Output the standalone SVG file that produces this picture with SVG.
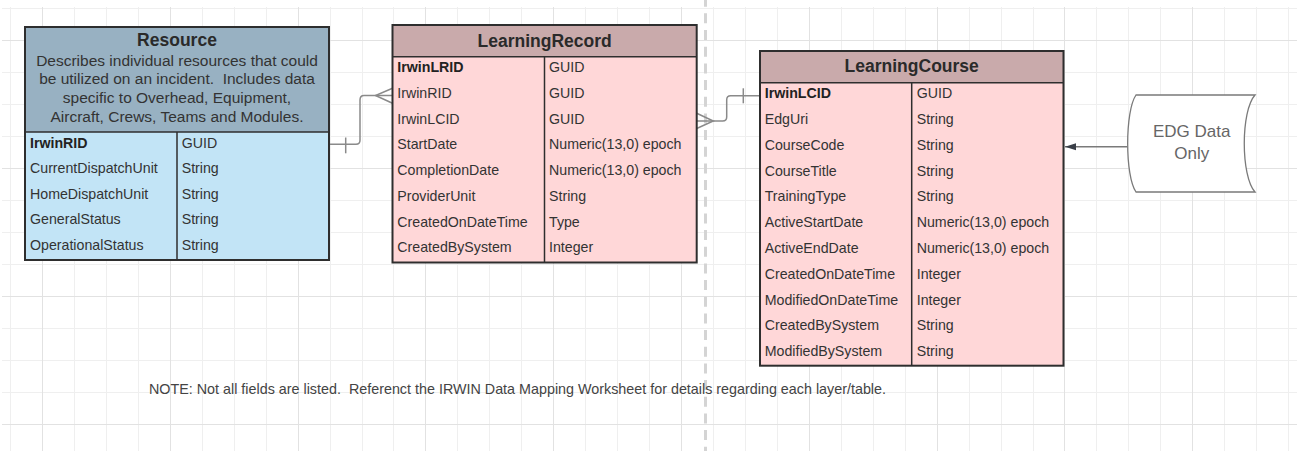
<svg xmlns="http://www.w3.org/2000/svg" width="1297" height="451" viewBox="0 0 1297 451">
<style>
text{font-family:"Liberation Sans",Arial,sans-serif;fill:#333}
.gl{stroke:#efefef;stroke-width:1;fill:none}
.gh{stroke:#e2e2e2;stroke-width:1;fill:none}
.frame{fill:none;stroke:#2e2e2e;stroke-width:2}
.div{stroke:#2e2e2e;stroke-width:1.5}
.hres{fill:#98b1c2}
.bres{fill:#c2e4f6}
.hpink{fill:#c9aaab}
.bpink{fill:#ffd7d8}
.title{font-size:17.5px;font-weight:bold;text-anchor:middle;fill:#2a2a2a}
.desc{font-size:15.5px;text-anchor:middle}
.row{font-size:14.2px}
.key{font-weight:bold;fill:#222}
.conn{fill:none;stroke:#8a8a8a;stroke-width:1.5}
</style>
<defs>
<marker id="arrow" markerWidth="12" markerHeight="8" refX="11" refY="4" orient="auto" markerUnits="userSpaceOnUse">
<path d="M0,0.5 L11,4 L0,7.5 Z" fill="#3a3f48"/>
</marker>
</defs>
<rect width="1297" height="451" fill="#ffffff"/>
<g id="grid">
<path class="gl" d="M10.5,7V451M42.5,7V451M74.5,7V451M106.5,7V451M138.5,7V451M170.5,7V451M202.5,7V451M234.5,7V451M266.5,7V451M298.5,7V451M330.5,7V451M362.5,7V451M393.5,7V451M425.5,7V451M457.5,7V451M489.5,7V451M521.5,7V451M553.5,7V451M585.5,7V451M617.5,7V451M649.5,7V451M681.5,7V451M713.5,7V451M745.5,7V451M777.5,7V451M809.5,7V451M841.5,7V451M873.5,7V451M905.5,7V451M937.5,7V451M969.5,7V451M1001.5,7V451M1033.5,7V451M1064.5,7V451M1096.5,7V451M1128.5,7V451M1160.5,7V451M1192.5,7V451M1224.5,7V451M1256.5,7V451M1288.5,7V451"/>
<path class="gl" d="M2,8.5H1297M2,40.5H1297M2,72.5H1297M2,104.5H1297M2,136.5H1297M2,168.5H1297M2,200.5H1297M2,232.5H1297M2,264.5H1297M2,296.5H1297M2,328.5H1297M2,360.5H1297M2,392.5H1297M2,424.5H1297"/>
<path class="gh" d="M42.5,7V451M170.5,7V451M298.5,7V451M425.5,7V451M553.5,7V451M681.5,7V451M809.5,7V451M937.5,7V451M1064.5,7V451M1192.5,7V451M2,40.5H1297M2,168.5H1297M2,296.5H1297M2,424.5H1297"/>
</g>
<line x1="705.5" y1="0" x2="705.5" y2="451" stroke="#d4d4d4" stroke-width="3" stroke-dasharray="10 6.67" stroke-dashoffset="3.3"/>
<g id="connectors">
<path class="conn" d="M329,144.3 H356 Q360,144.3 360,140.3 V100 Q360,95.5 364,95.5 H392.5"/>
<path class="conn" d="M345.7,137.5 V153.3"/>
<path class="conn" d="M392.5,88.3 L375.5,95.5 L392.5,103.3"/>
<path class="conn" d="M696.7,121 H722.7 Q726.7,121 726.7,117 V99.7 Q726.7,95.7 730.7,95.7 H760"/>
<path class="conn" d="M696.7,113.3 L713.3,121 L696.7,128.5"/>
<path class="conn" d="M743.3,88.3 V103.3"/>
<path d="M1127.7,146.7 H1065" fill="none" stroke="#7a7a7a" stroke-width="1.4" marker-end="url(#arrow)"/>
</g>
<g id="resource">
<rect class="hres" x="25" y="27" width="304" height="105"/>
<rect class="bres" x="25" y="132" width="304" height="128"/>
<line class="div" x1="25" y1="132" x2="329" y2="132"/>
<line class="div" x1="177" y1="132" x2="177" y2="260"/>
<rect class="frame" x="25" y="27" width="304" height="233"/>
<text class="title" x="177" y="46">Resource</text>
<text class="desc" x="177" y="65.7">Describes individual resources that could</text>
<text class="desc" x="177" y="84.3" xml:space="preserve">be utilized on an incident.  Includes data</text>
<text class="desc" x="177" y="103">specific to Overhead, Equipment,</text>
<text class="desc" x="177" y="121.7">Aircraft, Crews, Teams and Modules.</text>
<text class="row key" x="30" y="147.5">IrwinRID</text><text class="row" x="181.7" y="147.5">GUID</text>
<text class="row" x="30" y="173">CurrentDispatchUnit</text><text class="row" x="181.7" y="173">String</text>
<text class="row" x="30" y="198.5">HomeDispatchUnit</text><text class="row" x="181.7" y="198.5">String</text>
<text class="row" x="30" y="224">GeneralStatus</text><text class="row" x="181.7" y="224">String</text>
<text class="row" x="30" y="249.5">OperationalStatus</text><text class="row" x="181.7" y="249.5">String</text>
</g>
<g id="learningrecord">
<rect class="hpink" x="392.5" y="25" width="304.2" height="31.7"/>
<rect class="bpink" x="392.5" y="56.7" width="304.2" height="205.8"/>
<line class="div" x1="392.5" y1="56.7" x2="696.7" y2="56.7"/>
<line class="div" x1="544.5" y1="56.7" x2="544.5" y2="262.5"/>
<rect class="frame" x="392.5" y="25" width="304.2" height="237.5"/>
<text class="title" x="544.6" y="46.5">LearningRecord</text>
<text class="row key" x="397.3" y="72.3">IrwinLRID</text><text class="row" x="549" y="72.3">GUID</text>
<text class="row" x="397.3" y="98">IrwinRID</text><text class="row" x="549" y="98">GUID</text>
<text class="row" x="397.3" y="123.7">IrwinLCID</text><text class="row" x="549" y="123.7">GUID</text>
<text class="row" x="397.3" y="149.4">StartDate</text><text class="row" x="549" y="149.4">Numeric(13,0) epoch</text>
<text class="row" x="397.3" y="175.1">CompletionDate</text><text class="row" x="549" y="175.1">Numeric(13,0) epoch</text>
<text class="row" x="397.3" y="200.8">ProviderUnit</text><text class="row" x="549" y="200.8">String</text>
<text class="row" x="397.3" y="226.5">CreatedOnDateTime</text><text class="row" x="549" y="226.5">Type</text>
<text class="row" x="397.3" y="252.2">CreatedBySystem</text><text class="row" x="549" y="252.2">Integer</text>
</g>
<g id="learningcourse">
<rect class="hpink" x="760" y="51" width="303.5" height="31.7"/>
<rect class="bpink" x="760" y="82.7" width="303.5" height="283"/>
<line class="div" x1="760" y1="82.7" x2="1063.5" y2="82.7"/>
<line class="div" x1="911.7" y1="82.7" x2="911.7" y2="365.7"/>
<rect class="frame" x="760" y="51" width="303.5" height="314.7"/>
<text class="title" x="911.7" y="71.5">LearningCourse</text>
<text class="row key" x="764.7" y="98.3">IrwinLCID</text><text class="row" x="916.7" y="98.3">GUID</text>
<text class="row" x="764.7" y="124.1">EdgUri</text><text class="row" x="916.7" y="124.1">String</text>
<text class="row" x="764.7" y="149.8">CourseCode</text><text class="row" x="916.7" y="149.8">String</text>
<text class="row" x="764.7" y="175.6">CourseTitle</text><text class="row" x="916.7" y="175.6">String</text>
<text class="row" x="764.7" y="201.4">TrainingType</text><text class="row" x="916.7" y="201.4">String</text>
<text class="row" x="764.7" y="227.2">ActiveStartDate</text><text class="row" x="916.7" y="227.2">Numeric(13,0) epoch</text>
<text class="row" x="764.7" y="252.9">ActiveEndDate</text><text class="row" x="916.7" y="252.9">Numeric(13,0) epoch</text>
<text class="row" x="764.7" y="278.7">CreatedOnDateTime</text><text class="row" x="916.7" y="278.7">Integer</text>
<text class="row" x="764.7" y="304.5">ModifiedOnDateTime</text><text class="row" x="916.7" y="304.5">Integer</text>
<text class="row" x="764.7" y="330.2">CreatedBySystem</text><text class="row" x="916.7" y="330.2">String</text>
<text class="row" x="764.7" y="356">ModifiedBySystem</text><text class="row" x="916.7" y="356">String</text>
</g>
<g id="edg">
<path d="M1136,95 H1255 C1240.7,111 1240.7,176 1255,192 H1136 C1124.9,176 1124.9,111 1136,95 Z" fill="#ffffff" stroke="#7a7a7a" stroke-width="1.3"/>
<text x="1191.7" y="136.7" font-size="17px" text-anchor="middle" style="fill:#666">EDG Data</text>
<text x="1191.7" y="158.5" font-size="17px" text-anchor="middle" style="fill:#666">Only</text>
</g>
<g id="note">
<text x="149" y="394" font-size="15px" textLength="737" lengthAdjust="spacingAndGlyphs" xml:space="preserve" style="fill:#444">NOTE: Not all fields are listed.  Referenct the IRWIN Data Mapping Worksheet for details regarding each layer/table.</text>
</g>
</svg>
